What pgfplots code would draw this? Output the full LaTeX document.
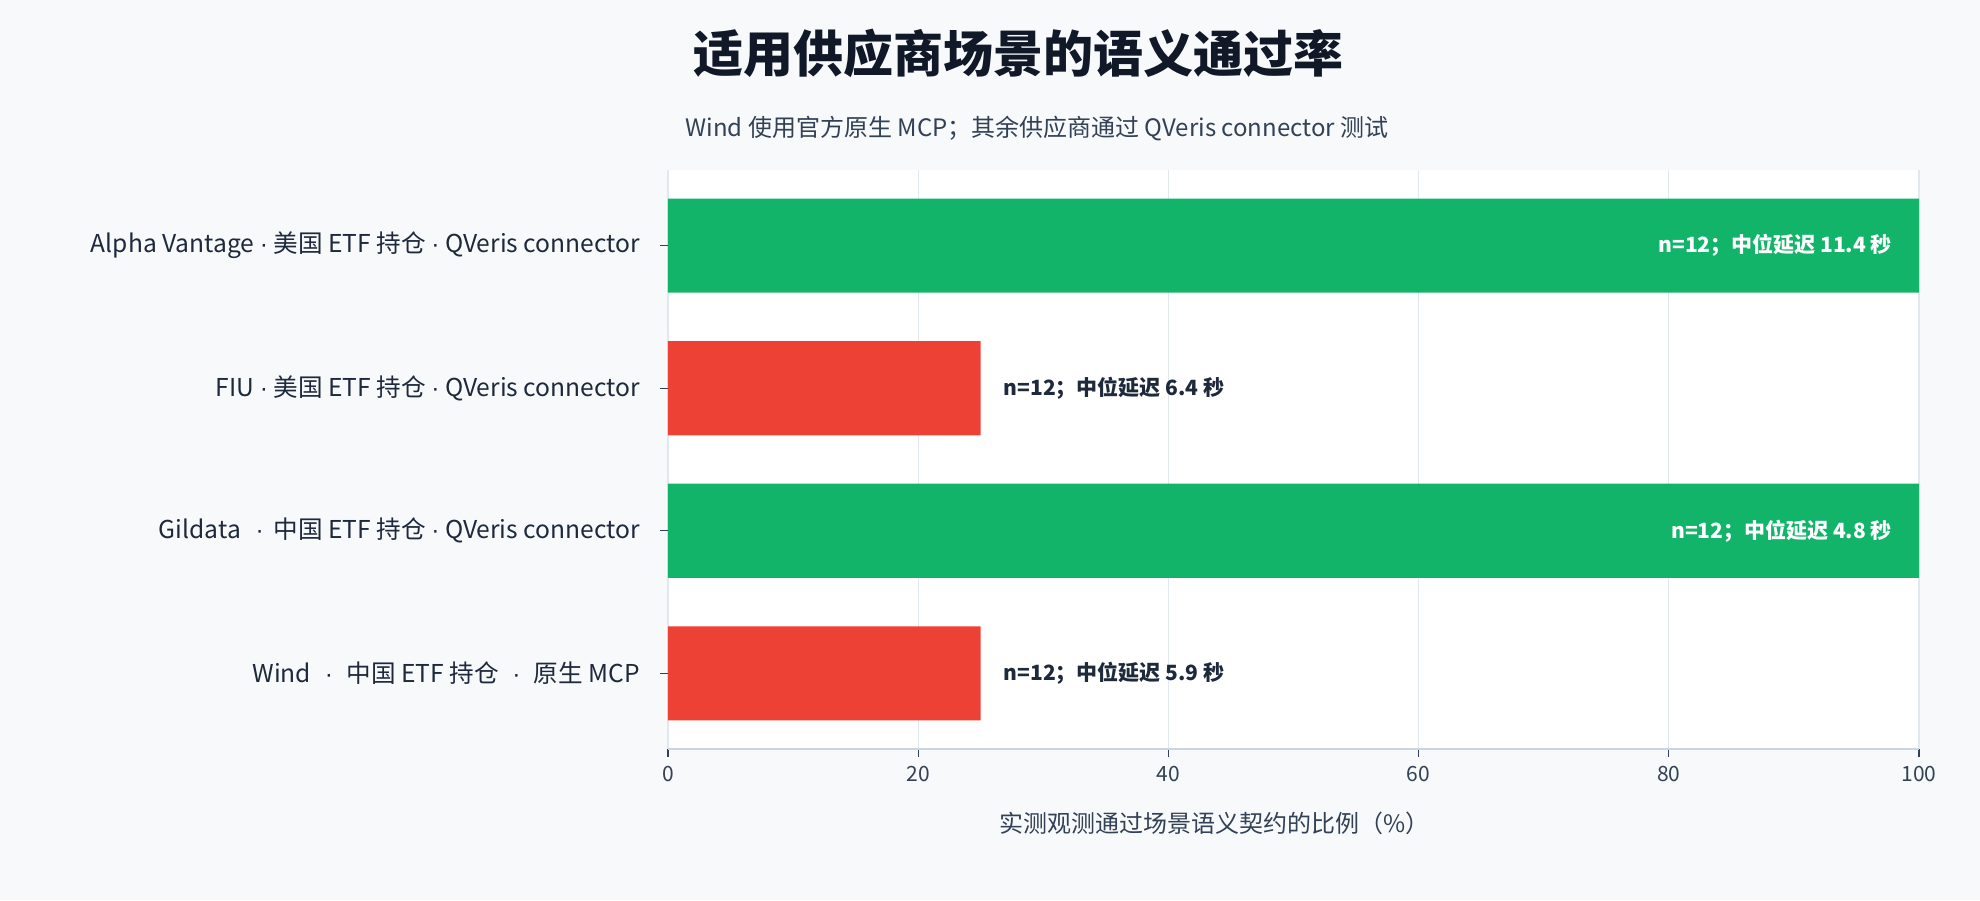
\documentclass[border=0pt]{standalone}
\usepackage{fontspec}
\setmainfont{Noto Sans CJK SC}
\newfontfamily\dotf{Liberation Sans}
\newcommand\md{{\dotf ·}}
\usepackage{pgfplots}
\pgfplotsset{compat=1.18}
\usetikzlibrary{backgrounds}
\definecolor{bg}{HTML}{F7F9FB}
\definecolor{gridc}{HTML}{E2E8F0}
\definecolor{axisc}{HTML}{CBD5E1}
\definecolor{titlec}{HTML}{111827}
\definecolor{textc}{HTML}{1E293B}
\definecolor{tickc}{HTML}{334155}
\definecolor{barg}{HTML}{12B469}
\definecolor{barr}{HTML}{EE4136}
\begin{document}
\begin{tikzpicture}[show background rectangle, background rectangle/.style={fill=bg, draw=none}, inner frame sep=0pt]
\begin{axis}[
  scale only axis, width=625.5pt, height=289.5pt,
  xbar, bar width=0.66,
  xmin=0, xmax=100, ymin=-0.53, ymax=3.53,
  ytick={0,1,2,3},
  yticklabels={{Wind\hspace{0.55em}\md\hspace{0.55em}中国 ETF 持仓\hspace{0.55em}\md\hspace{0.55em}原生 MCP\hspace{0.2em}}, {Gildata\hspace{0.6em}\md\hspace{0.4em}中国 ETF 持仓 \md{} QVeris connector}, {FIU \md{} 美国 ETF 持仓 \md{} QVeris connector}, {Alpha Vantage \md{} 美国 ETF 持仓 \md{} QVeris connector}},
  xtick={0,20,40,60,80,100},
  xmajorgrids, grid style={draw=gridc, line width=0.6pt},
  axis background/.style={fill=white},
  axis lines=left, axis line style={-},
  x axis line style={draw=axisc, line width=0.8pt},
  y axis line style={draw=none},
  tick align=outside, major tick length=4pt,
  tick style={draw=tickc, line width=0.6pt},
  xtick style={draw=tickc}, ytick style={draw=tickc},
  /pgf/number format/assume math mode=true,
  x tick label style={font=\fontsize{10.5}{12}\selectfont, color=tickc, yshift=-1pt},
  y tick label style={font=\fontsize{12.3}{14}\selectfont, color=textc, xshift=-6.5pt},
  clip=false,
]
\addplot[fill=barg, draw=none, bar shift=0pt, point meta=explicit symbolic, nodes near coords,
  nodes near coords style={anchor=east, xshift=-10pt, color=white, font=\bfseries\fontsize{10.5}{12}\selectfont}]
  coordinates {(100,3) [n=12；中位延迟 11.4 秒] (100,1) [n=12；中位延迟 4.8 秒]};
\addplot[fill=barr, draw=none, bar shift=0pt, point meta=explicit symbolic, nodes near coords,
  nodes near coords style={anchor=west, xshift=8pt, color=textc, font=\bfseries\fontsize{10.5}{12}\selectfont}]
  coordinates {(25,2) [n=12；中位延迟 6.4 秒] (25,0) [n=12；中位延迟 5.9 秒]};
\coordinate (O) at (rel axis cs:0,0);
\coordinate (T) at (rel axis cs:1,1);
\node[font=\bfseries\fontsize{25}{30}\selectfont, color=titlec, yshift=58.5pt] at (rel axis cs:0.28,1) {适用供应商场景的语义通过率};
\node[font=\fontsize{12}{14}\selectfont, color=tickc, yshift=20.5pt] at (rel axis cs:0.295,1) {Wind 使用官方原生 MCP；其余供应商通过 QVeris connector 测试};
\node[font=\fontsize{12}{14}\selectfont, color=tickc, yshift=-37pt] at (rel axis cs:0.437,0) {实测观测通过场景语义契约的比例（\%）};
\end{axis}
\pgfresetboundingbox
\path[use as bounding box] ([xshift=-334pt,yshift=-75.5pt]O) rectangle ([xshift=30.5pt,yshift=85pt]T);
\end{tikzpicture}
\end{document}
